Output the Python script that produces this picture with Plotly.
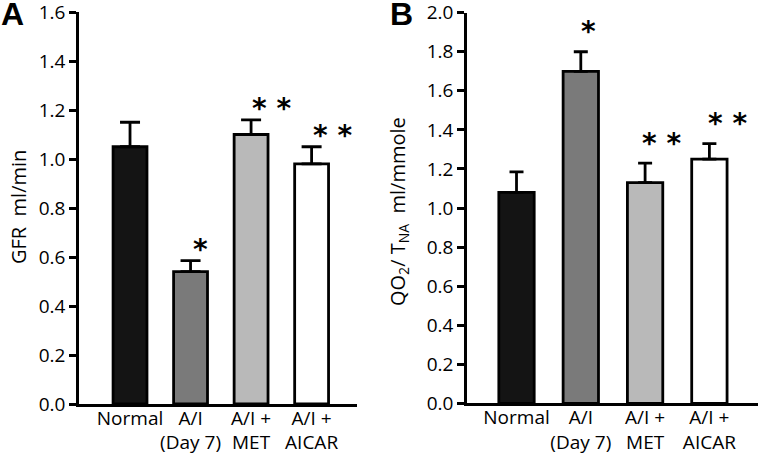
import plotly.graph_objects as go

categories = ["Normal", "A/I<br>(Day 7)", "A/I +<br>MET", "A/I +<br>AICAR"]
colors = ["#141414", "#7a7a7a", "#b9b9b9", "#ffffff"]

gfr_values = [1.05, 0.54, 1.10, 0.98]
gfr_errors = [0.10, 0.045, 0.06, 0.07]
gfr_marks = ["", "*", "* *", "* *"]
gfr_mark_dx = [0, 0.17, 0.33, 0.35]

qo2_values = [1.08, 1.70, 1.13, 1.25]
qo2_errors = [0.105, 0.10, 0.10, 0.08]
qo2_marks = ["", "*", "* *", "* *"]
qo2_mark_dx = [0, 0.12, 0.25, 0.28]

gfr_ticks = [0.0, 0.2, 0.4, 0.6, 0.8, 1.0, 1.2, 1.4, 1.6]
qo2_ticks = [0.0, 0.2, 0.4, 0.6, 0.8, 1.0, 1.2, 1.4, 1.6, 1.8, 2.0]

xpos = list(range(len(categories)))
FONT = "Open Sans"
STAR_FONT = dict(family="DejaVu Sans", size=28, color="black")

fig = go.Figure()

fig.add_trace(go.Bar(
    x=xpos, y=gfr_values, width=0.56, xaxis="x", yaxis="y",
    marker=dict(color=colors, line=dict(color="black", width=2.8)),
    error_y=dict(type="data", symmetric=False, array=gfr_errors,
                 arrayminus=[0] * 4, color="black", thickness=2.8, width=10),
    showlegend=False,
))
fig.add_trace(go.Bar(
    x=xpos, y=qo2_values, width=0.55, xaxis="x2", yaxis="y2",
    marker=dict(color=colors, line=dict(color="black", width=2.8)),
    error_y=dict(type="data", symmetric=False, array=qo2_errors,
                 arrayminus=[0] * 4, color="black", thickness=2.8, width=7),
    showlegend=False,
))

annotations = []
for i, (v, e, m, dx) in enumerate(zip(gfr_values, gfr_errors, gfr_marks, gfr_mark_dx)):
    if m:
        annotations.append(dict(x=i + dx, y=v + e, xref="x", yref="y", text="<b>" + m + "</b>",
                                showarrow=False, yanchor="middle", yshift=11,
                                font=STAR_FONT))
for i, (v, e, m, dx) in enumerate(zip(qo2_values, qo2_errors, qo2_marks, qo2_mark_dx)):
    if m:
        annotations.append(dict(x=i + dx, y=v + e, xref="x2", yref="y2", text="<b>" + m + "</b>",
                                showarrow=False, yanchor="middle", yshift=20,
                                font=STAR_FONT))

annotations += [
    dict(x=12.5 / 759, y=1 - 14.5 / 455, xref="paper", yref="paper", text="<b>A</b>",
         showarrow=False, xanchor="center", yanchor="middle",
         font=dict(family="Liberation Sans", size=32, color="black")),
    dict(x=401 / 759, y=1 - 14.5 / 455, xref="paper", yref="paper", text="<b>B</b>",
         showarrow=False, xanchor="center", yanchor="middle",
         font=dict(family="Liberation Sans", size=32, color="black")),
    dict(x=18 / 759, y=(455 - 207) / 455, xref="paper", yref="paper",
         text="GFR  ml/min", textangle=-90, showarrow=False,
         xanchor="center", yanchor="middle",
         font=dict(family=FONT, size=20, color="black")),
    dict(x=398 / 759, y=(455 - 212) / 455, xref="paper", yref="paper",
         text="QO<sub>2</sub>/ T<sub>NA</sub>  ml/mmole", textangle=-90, showarrow=False,
         xanchor="center", yanchor="middle",
         font=dict(family=FONT, size=20, color="black")),
]

axis_common = dict(showline=True, linecolor="black", linewidth=2.5, showgrid=False,
                   zeroline=False, automargin=False, ticklabeloverflow="allow",
                   tickfont=dict(family=FONT, size=19, color="black"))

fig.update_layout(
    width=759, height=455,
    margin=dict(l=0, r=0, t=0, b=0),
    paper_bgcolor="white", plot_bgcolor="white",
    font=dict(family=FONT, color="black"),
    annotations=annotations,
    xaxis=dict(domain=[79 / 759, 357 / 759], range=[-0.843, 3.75], tickangle=0,
               ticklabelstandoff=-5,
               tickvals=xpos, ticktext=categories, ticks="", **axis_common),
    yaxis=dict(domain=[51 / 455, 443 / 455], range=[0, 1.6],
               tickvals=gfr_ticks, ticktext=[f"{t:.1f}" for t in gfr_ticks],
               ticks="outside", ticklen=7, tickwidth=2.5, tickcolor="black", **axis_common),
    xaxis2=dict(domain=[467 / 759, 758 / 759], range=[-0.77, 3.756], anchor="y2", tickangle=0,
                ticklabelstandoff=-5,
                tickvals=xpos, ticktext=categories, ticks="", **axis_common),
    yaxis2=dict(domain=[51.7 / 455, 442.3 / 455], range=[0, 2.0], anchor="x2",
                tickvals=qo2_ticks, ticktext=[f"{t:.1f}" for t in qo2_ticks],
                ticks="outside", ticklen=7, tickwidth=2.5, tickcolor="black", **axis_common),
)

fig.write_html("out.html", config={"displayModeBar": False},
               post_script="document.body.style.margin='0';document.body.style.overflow='hidden';")
